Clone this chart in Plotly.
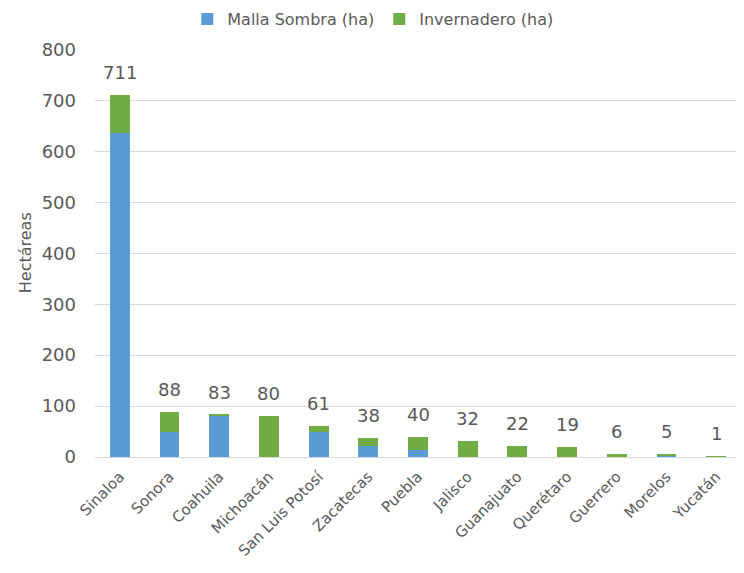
import plotly.graph_objects as go

estados = ["Sinaloa", "Sonora", "Coahuila", "Michoacán", "San Luis Potosí", "Zacatecas",
           "Puebla", "Jalisco", "Guanajuato", "Querétaro", "Guerrero", "Morelos", "Yucatán"]
malla_sombra = [636, 50, 81, 0, 50, 22, 14, 0, 0, 0, 0, 2, 0]
invernadero = [75, 38, 2, 80, 11, 16, 26, 32, 22, 19, 6, 3, 1]
totales = [m + i for m, i in zip(malla_sombra, invernadero)]

FONT = "DejaVu Sans, sans-serif"
GRAY = "#595959"

fig = go.Figure()
fig.add_trace(go.Bar(x=estados, y=malla_sombra, name="Malla Sombra (ha)",
                     marker=dict(color="#5B9BD5", line=dict(width=0))))
fig.add_trace(go.Bar(x=estados, y=invernadero, name="Invernadero (ha)",
                     marker=dict(color="#70AD47", line=dict(width=0))))

for e, t in zip(estados, totales):
    fig.add_annotation(x=e, y=t, text=str(t), showarrow=False, yanchor="bottom",
                       yshift=10, font=dict(family=FONT, size=18, color=GRAY))

fig.add_annotation(text="Hectáreas", xref="paper", yref="paper", x=-0.108, y=0.5,
                   xanchor="center", yanchor="middle", textangle=-90, showarrow=False,
                   font=dict(family=FONT, size=16, color=GRAY))

fig.update_layout(
    barmode="stack",
    bargap=0.6,
    width=744, height=573,
    margin=dict(l=87, r=11, t=41, b=124, autoexpand=False),
    paper_bgcolor="white", plot_bgcolor="white",
    font=dict(family=FONT, size=16, color=GRAY),
    legend=dict(orientation="h", x=0.43, xanchor="center", y=1.115,
                yanchor="top", font=dict(family=FONT, size=16, color=GRAY),
                traceorder="normal", itemwidth=30, tracegroupgap=0),
    yaxis=dict(range=[0, 801], tickvals=[0, 100, 200, 300, 400, 500, 600, 700, 800],
               showgrid=True, gridcolor="#D9D9D9", automargin=False,
               gridwidth=1, zeroline=False, showline=False, ticks="",
               ticklabelstandoff=18,
               tickfont=dict(family=FONT, size=18, color=GRAY)),
    xaxis=dict(tickangle=-45, showline=True, linecolor="#D9D9D9", linewidth=1,
               automargin=False, ticks="", ticklabelstandoff=4,
               tickfont=dict(family=FONT, size=15, color=GRAY)),
)

fig.write_html("out.html")
